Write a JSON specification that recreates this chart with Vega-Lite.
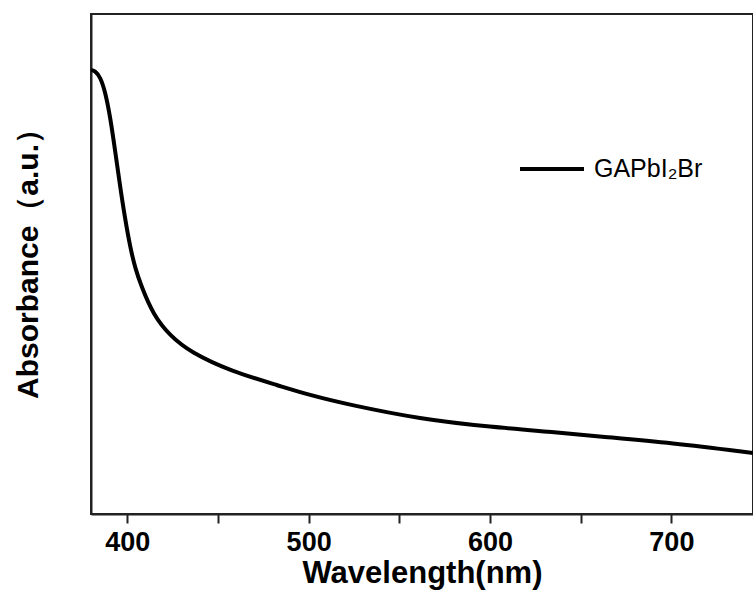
{
  "$schema": "https://vega.github.io/schema/vega-lite/v6.json",
  "autosize": "none",
  "width": 662,
  "height": 500,
  "padding": {"left": 91, "top": 14, "right": 0, "bottom": 88},
  "background": "white",
  "config": {
    "view": {"stroke": "#222", "strokeWidth": 2},
    "font": "Liberation Sans"
  },
  "data": {
    "values": [
      {"wl": 380.0, "abs": 0.888},
      {"wl": 382.4, "abs": 0.886},
      {"wl": 385.1, "abs": 0.874},
      {"wl": 387.9, "abs": 0.844},
      {"wl": 390.6, "abs": 0.794},
      {"wl": 393.4, "abs": 0.724},
      {"wl": 396.1, "abs": 0.654},
      {"wl": 398.9, "abs": 0.588},
      {"wl": 401.7, "abs": 0.532},
      {"wl": 404.5, "abs": 0.49},
      {"wl": 407.5, "abs": 0.458},
      {"wl": 414.3, "abs": 0.398},
      {"wl": 423.7, "abs": 0.356},
      {"wl": 434.7, "abs": 0.324},
      {"wl": 456.7, "abs": 0.286},
      {"wl": 484.3, "abs": 0.256},
      {"wl": 500.3, "abs": 0.238},
      {"wl": 522.8, "abs": 0.218},
      {"wl": 561.4, "abs": 0.19},
      {"wl": 600.0, "abs": 0.174},
      {"wl": 638.0, "abs": 0.163},
      {"wl": 660.5, "abs": 0.155},
      {"wl": 700.0, "abs": 0.142},
      {"wl": 745.0, "abs": 0.122}
    ]
  },
  "mark": {"type": "line", "strokeWidth": 4, "interpolate": "basis", "clip": true},
  "encoding": {
    "x": {
      "field": "wl",
      "type": "quantitative",
      "scale": {"domain": [380, 745], "nice": false, "zero": false},
      "axis": {
        "title": "Wavelength(nm)",
        "values": [400, 450, 500, 550, 600, 650, 700],
        "labelExpr": "datum.value % 100 === 0 ? datum.label : ''",
        "grid": false,
        "domainColor": "#222",
        "domainWidth": 2,
        "tickColor": "#222",
        "tickWidth": 2,
        "tickSize": 9,
        "labelFont": "Liberation Sans",
        "labelFontWeight": "bold",
        "labelFontSize": 27,
        "labelColor": "black",
        "labelPadding": 6,
        "titleFont": "Liberation Sans",
        "titleFontWeight": "bold",
        "titleFontSize": 31,
        "titleColor": "black",
        "titlePadding": 3
      }
    },
    "y": {
      "field": "abs",
      "type": "quantitative",
      "scale": {"domain": [0, 1], "nice": false},
      "axis": {
        "title": "Absorbance（a.u.）",
        "ticks": false,
        "labels": false,
        "grid": false,
        "domainColor": "#222",
        "domainWidth": 2,
        "titleFont": "Liberation Sans",
        "titleFontWeight": "bold",
        "titleFontSize": 30,
        "titleColor": "black",
        "titlePadding": 48,
        "titleY": 242
      }
    },
    "color": {
      "datum": "GAPbI₂Br",
      "scale": {"range": ["black"]},
      "legend": {
        "title": null,
        "orient": "none",
        "legendX": 427,
        "legendY": 121,
        "padding": 0,
        "symbolType": "stroke",
        "symbolSize": 4096,
        "symbolStrokeWidth": 4,
        "symbolStrokeColor": "black",
        "labelFont": "Liberation Sans",
        "labelFontSize": 25,
        "labelColor": "black",
        "labelOffset": 8
      }
    }
  }
}
